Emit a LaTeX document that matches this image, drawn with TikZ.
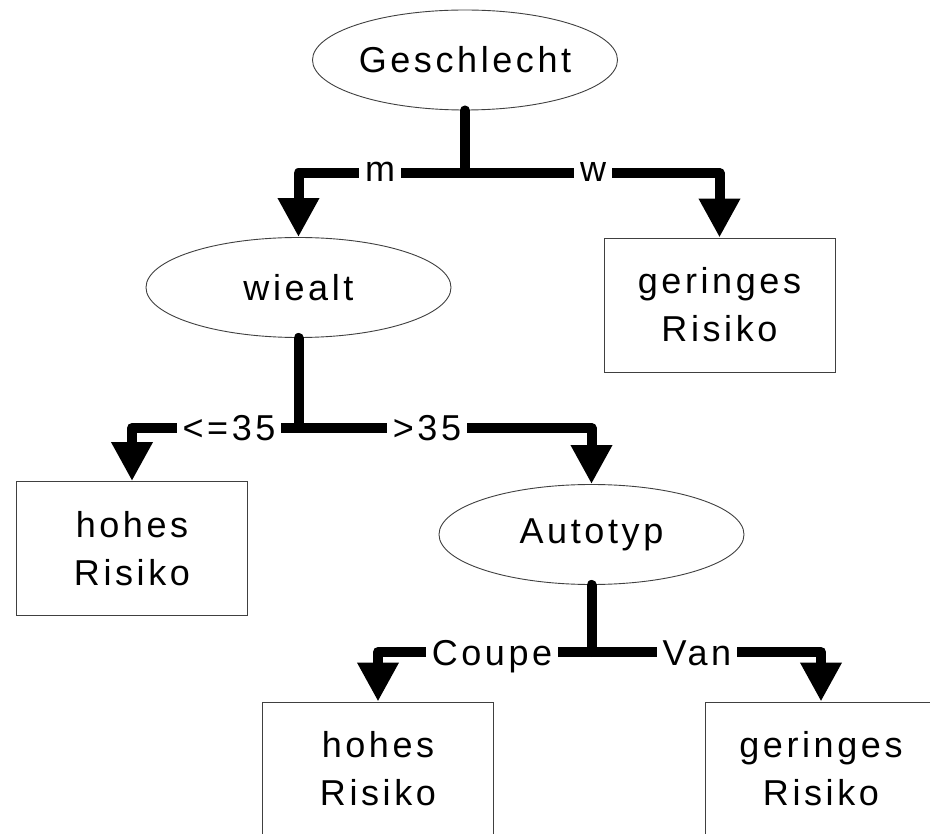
\documentclass[tikz,border=0pt]{standalone}
\usepackage{fontspec}
\setmainfont{Liberation Sans}[LetterSpace=10]
\usetikzlibrary{shapes.geometric,arrows.meta}
\newcommand{\txtfont}{\fontsize{36}{48}\selectfont}
\tikzset{
  decision/.style={ellipse, draw=black!75, line width=0.9pt, minimum width=305pt, minimum height=100pt, inner sep=0pt, font=\txtfont},
  leaf/.style={rectangle, draw=black!75, line width=0.9pt, minimum width=231pt, minimum height=134pt, inner sep=0pt, align=center, font=\txtfont},
  stemline/.style={line width=10pt, line cap=round},
  branchline/.style={line width=10pt, line join=round, -{Triangle[length=39pt,width=39pt]}},
  edgelabel/.style={fill=white, inner xsep=6pt, inner ysep=1pt, anchor=base, font=\txtfont},
}
\begin{document}
\begin{tikzpicture}[x=1pt,y=-1pt]
\useasboundingbox[fill=white] (0,0) rectangle (930,834);
\clip (0,0) rectangle (930,834);
% nodes
\node[decision] (g) at (465,60) {Geschlecht};
\node[decision] (w) at (298.5,287.5) {wiealt};
\node[decision] (a) at (591.5,534.5) {Autotyp};
\node[leaf] (gr1) at (719.5,305) {geringes\\Risiko};
\node[leaf] (hl1) at (132,548.5) {hohes\\Risiko};
\node[leaf] (hl2) at (378,769) {hohes\\Risiko};
\node[leaf] (gr2) at (821,769) {geringes\\Risiko};
% junctions
\coordinate (gj) at (465,173);
\coordinate (wj) at (298.5,428);
\coordinate (aj) at (591.5,652);
% connectors
\draw[stemline] (g.south) -- (gj);
\draw[branchline] (gj) -| (w.north);
\draw[branchline] (gj) -| (gr1.north);
\draw[stemline] (w.south) -- (wj);
\draw[branchline] (wj) -| (hl1.north);
\draw[branchline] (wj) -| (a.north);
\draw[stemline] (a.south) -- (aj);
\draw[branchline] (aj) -| (hl2.north);
\draw[branchline] (aj) -| (gr2.north);
% labels
\node[edgelabel] (lm) at (380,182) {m};
\node[edgelabel] (lw) at (593,182) {w};
\node[edgelabel] (lle) at (229,441) {<=35};
\node[edgelabel] (lgt) at (427,441) {>35};
\node[edgelabel] (lc) at (492,665) {Coupe};
\node[edgelabel] (lv) at (697,665) {Van};
\end{tikzpicture}
\end{document}
